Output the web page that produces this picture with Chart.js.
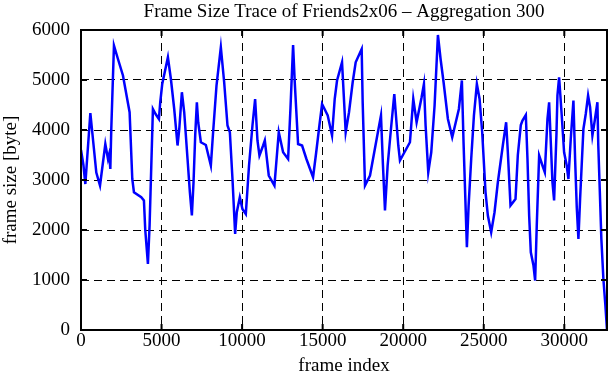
<!DOCTYPE html>
<html>
<head>
<meta charset="utf-8">
<script src="https://cdn.jsdelivr.net/npm/chart.js@4/dist/chart.umd.min.js"></script>
<style>
  html, body { margin: 0; padding: 0; background: #fff; }
  #wrap { width: 611px; height: 380px; }
</style>
</head>
<body>
<div id="wrap"><canvas id="c" width="611" height="380"></canvas></div>
<script>
const chartTitle = "Frame Size Trace of Friends2x06 – Aggregation 300";
const xAxisTitle = "frame index";
const yAxisTitle = "frame size [byte]";
const xTickValues = [0, 5000, 10000, 15000, 20000, 25000, 30000];
const yTickValues = [0, 1000, 2000, 3000, 4000, 5000, 6000];

const frameIndex = [
  0, 150, 270, 580, 950, 1180, 1510, 1675, 1750, 1820, 1880, 2046, 2294, 2604, 3017, 3183, 3286,
  3740, 3906, 3989, 4154, 4257, 4464, 4629, 4836, 4918, 5042, 5394,
  5580, 5786, 5993, 6100, 6262, 6407, 6613, 6758, 6882, 6985, 7089, 7192, 7275, 7440, 7750,
  8060, 8200, 8411, 8680, 8887, 9093, 9240, 9403, 9568, 9670, 9858, 10020, 10230, 10430,
  10643, 10808, 10953, 11077, 11305, 11410, 11656, 12007, 12276, 12545, 12855, 13000, 13165,
  13268, 13475, 13723, 13992, 14405, 14600, 14798, 14963, 15314, 15583, 15748, 15893, 16203,
  16430, 16636, 16864, 17050, 17422, 17484, 17629, 17939, 18352, 18620, 18744, 18868, 19034,
  19240, 19447, 19550, 19695, 19798, 20418, 20625, 20832, 21142, 21287, 21390, 21555, 21741,
  21948, 22155, 22320, 22506, 22775, 23043, 23456, 23642, 23745, 23870, 23953, 24060, 24221,
  24390, 24572, 24740, 24903, 25110, 25255, 25461, 25668, 25875, 26183, 26390, 26495, 26660,
  26970, 27115, 27300, 27404, 27611, 27714, 27818, 27921, 28086, 28190, 28290, 28438, 28644,
  28790, 28954, 29058, 29264, 29367, 29510, 29574, 29677, 29840, 29987, 30150, 30256, 30400,
  30566, 30670, 30773, 30876, 30980, 31186, 31331, 31476, 31600, 31744, 31890, 32054, 32110,
  32199, 32300, 32426, 32550, 32650
];
const frameSize = [
  3600, 3300, 2920, 4340, 3150, 2890, 3720, 3420, 3520, 3220, 4020, 5690, 5420, 5090, 4355, 3020, 2755,
  2655, 2590, 2000, 1320, 2090, 4420, 4320, 4220, 4555, 4920, 5455,
  5020, 4420, 3690, 4020, 4755, 4355, 3420, 2755, 2290, 2955, 3890, 4555, 4155, 3755, 3700,
  3290, 3955, 4890, 5655, 4955, 4090, 3955, 3020, 1920, 2355, 2655, 2420, 2320, 3290,
  4090, 4620, 3790, 3490, 3690, 3790, 3090, 2890, 3955, 3555, 3420, 4420, 5700,
  4955, 3720, 3690, 3420, 3055, 3555, 4090, 4520, 4290, 3890, 4620, 4990, 5355,
  3955, 4355, 4955, 5355, 5620, 4555, 2890, 3090, 3820, 4290, 3290, 2390, 3290,
  4020, 4720, 4290, 3690, 3390, 3755, 4620, 4155, 4655, 4920, 4090, 3155, 3555,
  4490, 5900, 5420, 4955, 4220, 3855, 4420, 4990, 3755, 2490, 1655, 2490, 3420,
  4290, 4920, 4620, 3955, 2755, 2290, 1955, 2355, 2955, 3690, 4155, 3555, 2490,
  2620, 3500, 4100, 4190, 4300, 3420, 2290, 1555, 1290, 990, 2090, 3490, 3290,
  3155, 4220, 4555, 2955, 2590, 3890, 4690, 5055, 4290, 3555, 3290, 3020, 3820,
  4590, 3420, 2455, 1820, 2620, 4020, 4320, 4690, 4455, 3890, 4190, 4555, 3690,
  2820, 1820, 1020, 490, 0
];
const xMax = 32650;

const FONT = "'Liberation Serif', 'Times New Roman', serif";

const framePlugin = {
  id: 'framePlugin',
  afterDraw(chart) {
    const { ctx, chartArea: a, scales } = chart;
    ctx.save();
    ctx.strokeStyle = '#000';
    ctx.lineWidth = 2;
    ctx.setLineDash([]);
    ctx.strokeRect(a.left, a.top, a.right - a.left, a.bottom - a.top);
    const tl = 6;
    ctx.beginPath();
    xTickValues.forEach(v => {
      const px = scales.x.getPixelForValue(v);
      ctx.moveTo(px, a.bottom); ctx.lineTo(px, a.bottom - tl);
      ctx.moveTo(px, a.top); ctx.lineTo(px, a.top + tl);
    });
    yTickValues.forEach(v => {
      const py = scales.y.getPixelForValue(v);
      ctx.moveTo(a.left, py); ctx.lineTo(a.left + tl, py);
      ctx.moveTo(a.right, py); ctx.lineTo(a.right - tl, py);
    });
    ctx.stroke();
    ctx.restore();
  }
};

new Chart(document.getElementById('c'), {
  type: 'line',
  data: {
    datasets: [{
      data: frameIndex.map((f, i) => ({ x: f, y: frameSize[i] })),
      borderColor: '#0000ff',
      borderWidth: 2.5,
      pointRadius: 0,
      tension: 0,
      fill: false
    }]
  },
  options: {
    responsive: false,
    animation: false,
    layout: { padding: { left: 0, right: 4, top: 0, bottom: 0 } },
    plugins: {
      legend: { display: false },
      tooltip: { enabled: false },
      title: {
        display: true,
        text: chartTitle,
        fullSize: false,
        color: '#000',
        font: { family: FONT, size: 19, weight: 'normal' },
        padding: { top: 1, bottom: 6.2 }
      }
    },
    scales: {
      x: {
        type: 'linear',
        min: 0,
        max: xMax,
        afterBuildTicks: s => { s.ticks = xTickValues.map(v => ({ value: v })); },
        afterFit: s => { s.height = 50; },
        ticks: {
          color: '#000',
          font: { family: FONT, size: 19 },
          padding: 0,
          maxRotation: 0,
          autoSkip: false,
          callback: v => String(v)
        },
        grid: { color: '#000', lineWidth: 1, drawTicks: false },
        border: { display: false, dash: [8, 5] },
        title: {
          display: true,
          text: xAxisTitle,
          color: '#000',
          font: { family: FONT, size: 19 },
          padding: { top: 0, bottom: 3 }
        }
      },
      y: {
        min: 0,
        max: 6000,
        afterBuildTicks: s => { s.ticks = yTickValues.map(v => ({ value: v })); },
        afterFit: s => { s.width = 81; },
        ticks: {
          color: '#000',
          font: { family: FONT, size: 19 },
          padding: 11,
          callback: v => String(v)
        },
        grid: { color: '#000', lineWidth: 1, drawTicks: false },
        border: { display: false, dash: [8, 5] },
        title: {
          display: true,
          text: yAxisTitle,
          color: '#000',
          font: { family: FONT, size: 19 },
          padding: { top: 0, bottom: 0 }
        }
      }
    }
  },
  plugins: [framePlugin]
});
</script>
</body>
</html>
